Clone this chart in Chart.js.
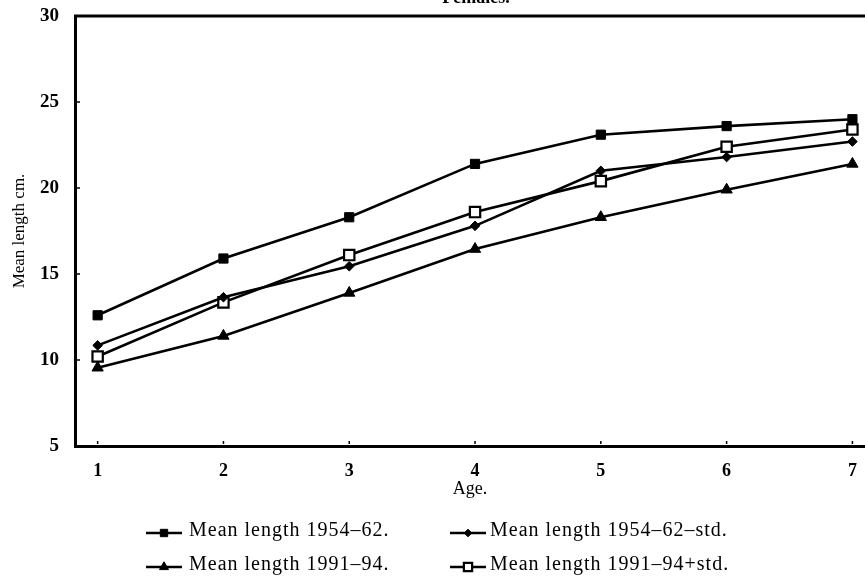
<!DOCTYPE html>
<html><head><meta charset="utf-8">
<script src="https://cdn.jsdelivr.net/npm/chart.js@4/dist/chart.umd.min.js"></script>
<style>
html,body{margin:0;padding:0;background:#fff;overflow:hidden;}
#wrap{position:absolute;left:0;top:0;width:865px;height:583px;}
</style></head><body>
<div id="wrap"><canvas id="c"></canvas></div>
<script>
// ---- data ----
const ages = [1, 2, 3, 4, 5, 6, 7];
const len1954_62 = [12.6, 15.9, 18.3, 21.4, 23.1, 23.6, 24.0];
const len1954_62_minusStd = [10.85, 13.65, 15.45, 17.8, 21.0, 21.8, 22.7];
const len1991_94 = [9.55, 11.4, 13.9, 16.45, 18.3, 19.9, 21.4];
const len1991_94_plusStd = [10.2, 13.35, 16.1, 18.6, 20.4, 22.4, 23.4];
const seriesLabels = ['Mean length 1954\u201362.', 'Mean length 1954\u201362\u2013std.', 'Mean length 1991\u201394.', 'Mean length 1991\u201394+std.'];
const xTickValues = [1, 2, 3, 4, 5, 6, 7];
const yTickValues = [5, 10, 15, 20, 25, 30];
const chartTitle = 'Females.';
const xTitle = 'Age.';
const yTitle = 'Mean length cm.';

const SERIF = '"Liberation Serif", "DejaVu Serif", serif';
const toPts = arr => arr.map((v, i) => ({x: ages[i], y: v}));

const styles = [
  {pointStyle: 'rect', radius: 6.5, bg: '#000', bw: 1},
  {pointStyle: 'rectRot', radius: 4.8, bg: '#000', bw: 1},
  {pointStyle: 'triangle', radius: 6.5, bg: '#000', bw: 1},
  {pointStyle: 'rect', radius: 7.3, bg: '#fff', bw: 2.2}
];
const seriesData = [len1954_62, len1954_62_minusStd, len1991_94, len1991_94_plusStd];

const datasets = seriesData.map((d, i) => ({
  label: seriesLabels[i],
  data: toPts(d),
  borderColor: '#000',
  borderWidth: 2.6,
  pointStyle: styles[i].pointStyle,
  pointRadius: styles[i].radius,
  pointBackgroundColor: styles[i].bg,
  pointBorderColor: '#000',
  pointBorderWidth: styles[i].bw,
  tension: 0,
  fill: false,
  clip: false
}));

const decorPlugin = {
  id: 'decor',
  afterDraw(chart) {
    const ctx = chart.ctx;
    const a = chart.chartArea;
    const xs = chart.scales.x, ys = chart.scales.y;
    ctx.save();
    // top border
    ctx.strokeStyle = '#000';
    ctx.lineWidth = 3;
    ctx.beginPath();
    ctx.moveTo(a.left - 1, a.top);
    ctx.lineTo(a.right, a.top);
    ctx.stroke();
    // inward y ticks
    ctx.lineWidth = 1.5;
    yTickValues.forEach(v => {
      if (v === 5 || v === 30) return;
      const y = ys.getPixelForValue(v);
      ctx.beginPath();
      ctx.moveTo(a.left, y);
      ctx.lineTo(a.left + 5, y);
      ctx.stroke();
    });
    // small x tick marks
    xTickValues.forEach(v => {
      const x = xs.getPixelForValue(v);
      ctx.beginPath();
      ctx.moveTo(x, a.bottom - 2);
      ctx.lineTo(x, a.bottom - 5);
      ctx.stroke();
    });
    // title (cut at top edge)
    ctx.fillStyle = '#000';
    ctx.font = 'bold 18px ' + SERIF;
    ctx.textAlign = 'center';
    ctx.textBaseline = 'alphabetic';
    ctx.fillText(chartTitle, 476, 3);
    // legend, two columns
    const cols = [{lx0: 146, lx1: 182, tx: 189}, {lx0: 450, lx1: 486, tx: 490}];
    const rows = [531, 565];
    ctx.font = '20px ' + SERIF;
    try { ctx.letterSpacing = '1px'; } catch (e) {}
    ctx.textAlign = 'left';
    ctx.textBaseline = 'middle';
    chart.data.datasets.forEach((ds, i) => {
      const c = cols[i % 2], y = rows[Math.floor(i / 2)];
      ctx.strokeStyle = '#000';
      ctx.lineWidth = 2.4;
      ctx.beginPath();
      ctx.moveTo(c.lx0, y + 2);
      ctx.lineTo(c.lx1, y + 2);
      ctx.stroke();
      ctx.fillStyle = ds.pointBackgroundColor;
      ctx.lineWidth = ds.pointBorderWidth;
      Chart.helpers.drawPoint(ctx, {pointStyle: ds.pointStyle, radius: ds.pointRadius * 0.8, rotation: 0, borderWidth: ds.pointBorderWidth}, (c.lx0 + c.lx1) / 2, y + 2);
      ctx.fillStyle = '#000';
      ctx.fillText(ds.label, c.tx, y);
    });
    ctx.restore();
  }
};

new Chart(document.getElementById('c'), {
  type: 'line',
  data: {datasets},
  options: {
    responsive: true,
    maintainAspectRatio: false,
    animation: false,
    layout: {autoPadding: false, padding: {top: 16, left: 0, right: 0, bottom: 75}},
    plugins: {legend: {display: false}, title: {display: false}, tooltip: {enabled: false}},
    scales: {
      x: {
        type: 'linear',
        min: 0.82,
        max: 7.1,
        afterBuildTicks: s => { s.ticks = xTickValues.map(v => ({value: v})); },
        afterFit: s => { s.height = 62; s.paddingLeft = 0; s.paddingRight = 0; },
        grid: {display: false},
        border: {display: true, color: '#000', width: 3},
        ticks: {color: '#000', font: {family: SERIF, size: 18, weight: 'bold'}, padding: 7, maxRotation: 0, autoSkip: false},
        title: {display: true, text: xTitle, color: '#000', font: {family: SERIF, size: 18}, padding: {top: 0, bottom: 8}}
      },
      y: {
        min: 5,
        max: 30,
        afterBuildTicks: s => { s.ticks = yTickValues.map(v => ({value: v})); },
        afterFit: s => { s.width = 75; s.paddingTop = 0; s.paddingBottom = 0; },
        grid: {display: false},
        border: {display: true, color: '#000', width: 3},
        ticks: {color: '#000', font: {family: SERIF, size: 19, weight: 'bold'}, padding: 8},
        title: {display: true, text: yTitle, color: '#000', font: {family: SERIF, size: 17}, padding: {top: 9, bottom: 0}}
      }
    }
  },
  plugins: [decorPlugin]
});
</script>
</body></html>
